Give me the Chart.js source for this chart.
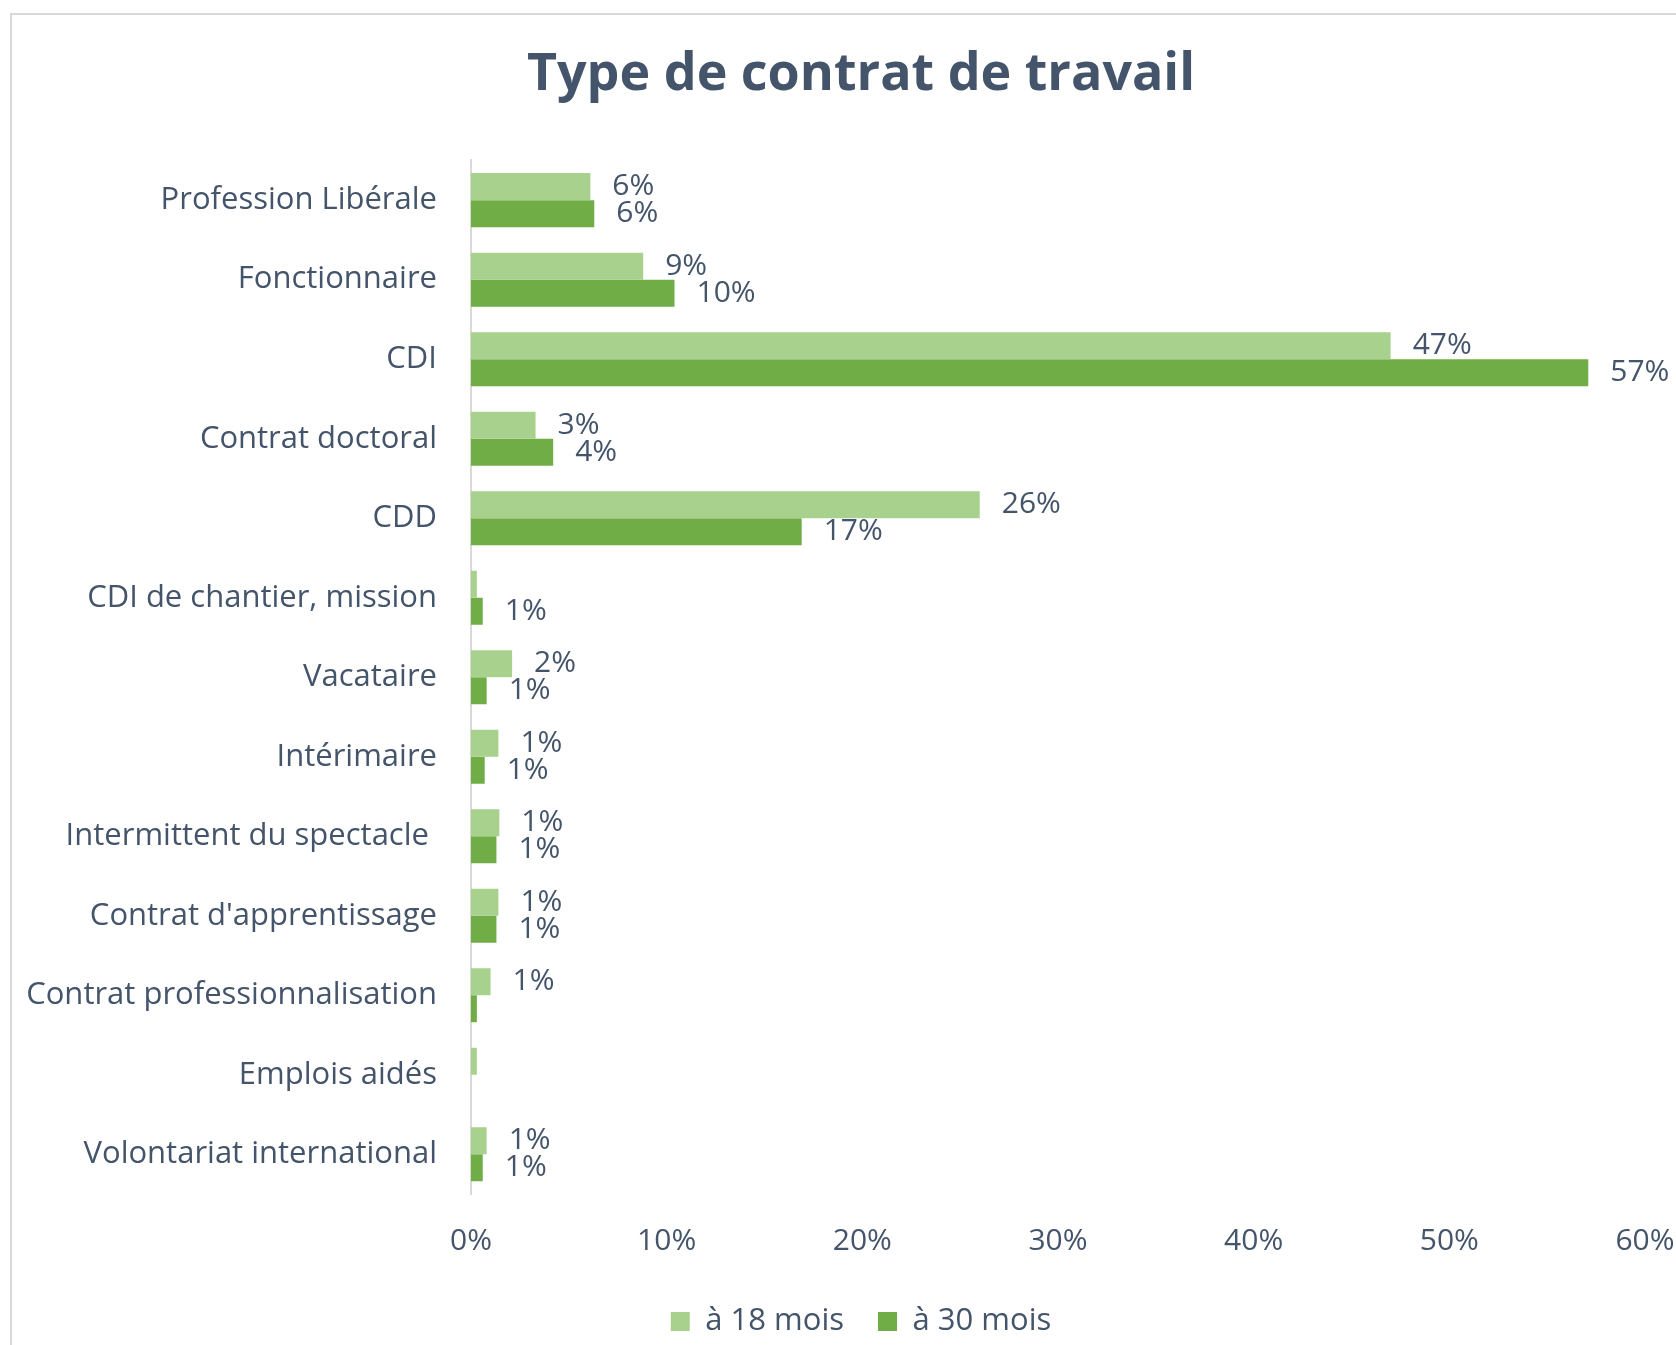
<!DOCTYPE html>
<html lang="fr">
<head>
<meta charset="utf-8">
<title>Type de contrat de travail</title>
<script src="https://cdn.jsdelivr.net/npm/chart.js@4.4.1/dist/chart.umd.min.js"></script>
<style>
  html, body { margin: 0; padding: 0; background: #fff; overflow: hidden; }
  body { width: 1676px; height: 1345px; position: relative; }
  .frame {
    position: absolute; left: 10px; top: 13px;
    width: 1720px; height: 1400px;
    border: 2px solid #d9d9d9; box-sizing: border-box;
  }
  .box { position: absolute; left: 12px; top: 15px; width: 1698px; height: 1332px; }
</style>
</head>
<body>
<div class="frame"></div>
<div class="box"><canvas id="contratChart"></canvas></div>

<script>
const categories = [
  "Profession Libérale",
  "Fonctionnaire",
  "CDI",
  "Contrat doctoral",
  "CDD",
  "CDI de chantier, mission",
  "Vacataire",
  "Intérimaire",
  "Intermittent du spectacle ",
  "Contrat d'apprentissage",
  "Contrat professionnalisation",
  "Emplois aidés",
  "Volontariat international"
];

const seriesNames = ["à 18 mois", "à 30 mois"];

const at18 = [6.1, 8.8, 47.0, 3.3, 26.0, 0.3, 2.1, 1.4, 1.45, 1.4, 1.0, 0.3, 0.8];
const at30 = [6.3, 10.4, 57.1, 4.2, 16.9, 0.6, 0.8, 0.7, 1.3, 1.3, 0.3, 0, 0.6];

const xTicks = [0, 10, 20, 30, 40, 50, 60];

const textColor = "#44546a";
const lightGreen = "#a9d18e";
const darkGreen = "#70ad47";
const fontFamily = "'Open Sans', 'Noto Sans', sans-serif";

// étiquettes de valeur au bout des barres (arrondies, 0% masqué)
const valueLabels = {
  id: "valueLabels",
  afterDatasetsDraw(chart) {
    const ctx = chart.ctx;
    ctx.save();
    ctx.font = "30px " + fontFamily;
    ctx.fillStyle = textColor;
    ctx.textAlign = "left";
    ctx.textBaseline = "middle";
    chart.data.datasets.forEach((ds, i) => {
      chart.getDatasetMeta(i).data.forEach((bar, j) => {
        const pct = Math.round(ds.data[j]);
        if (pct < 1) return;
        ctx.fillText(pct + "%", bar.x + 22, bar.y);
      });
    });
    ctx.restore();
  }
};

new Chart(document.getElementById("contratChart"), {
  type: "bar",
  data: {
    labels: categories,
    datasets: [
      { label: seriesNames[0], data: at18, backgroundColor: lightGreen },
      { label: seriesNames[1], data: at30, backgroundColor: darkGreen }
    ]
  },
  options: {
    indexAxis: "y",
    responsive: true,
    maintainAspectRatio: false,
    animation: false,
    events: [],
    categoryPercentage: 0.68,
    barPercentage: 1.0,
    layout: { padding: 0 },
    plugins: {
      title: {
        display: true,
        text: "Type de contrat de travail",
        color: textColor,
        font: { family: fontFamily, size: 52, weight: "bold", lineHeight: 1.2 },
        padding: { top: 29, bottom: 54 }
      },
      legend: {
        position: "bottom",
        labels: {
          color: textColor,
          font: { family: fontFamily, size: 31 },
          boxWidth: 19,
          boxHeight: 19,
          padding: 34
        }
      },
      tooltip: { enabled: false }
    },
    scales: {
      x: {
        min: xTicks[0],
        max: xTicks[xTicks.length - 1],
        afterBuildTicks: (scale) => { scale.ticks = xTicks.map((v) => ({ value: v })); },
        // marge à droite du tracé, sans décentrer titre et légende
        afterFit: (scale) => { scale.height = 78; scale.paddingRight = 65; },
        grid: { display: false, drawTicks: false },
        border: { display: false },
        ticks: {
          color: textColor,
          font: { family: fontFamily, size: 30 },
          padding: 29,
          callback: (v) => v + "%"
        }
      },
      y: {
        afterFit: (scale) => { scale.width = 459; },
        grid: { display: false, drawTicks: false },
        border: { display: true, color: "#d9d9d9", width: 2 },
        ticks: {
          color: textColor,
          font: { family: fontFamily, size: 31 },
          padding: 34
        }
      }
    }
  },
  plugins: [valueLabels]
});
</script>
</body>
</html>
